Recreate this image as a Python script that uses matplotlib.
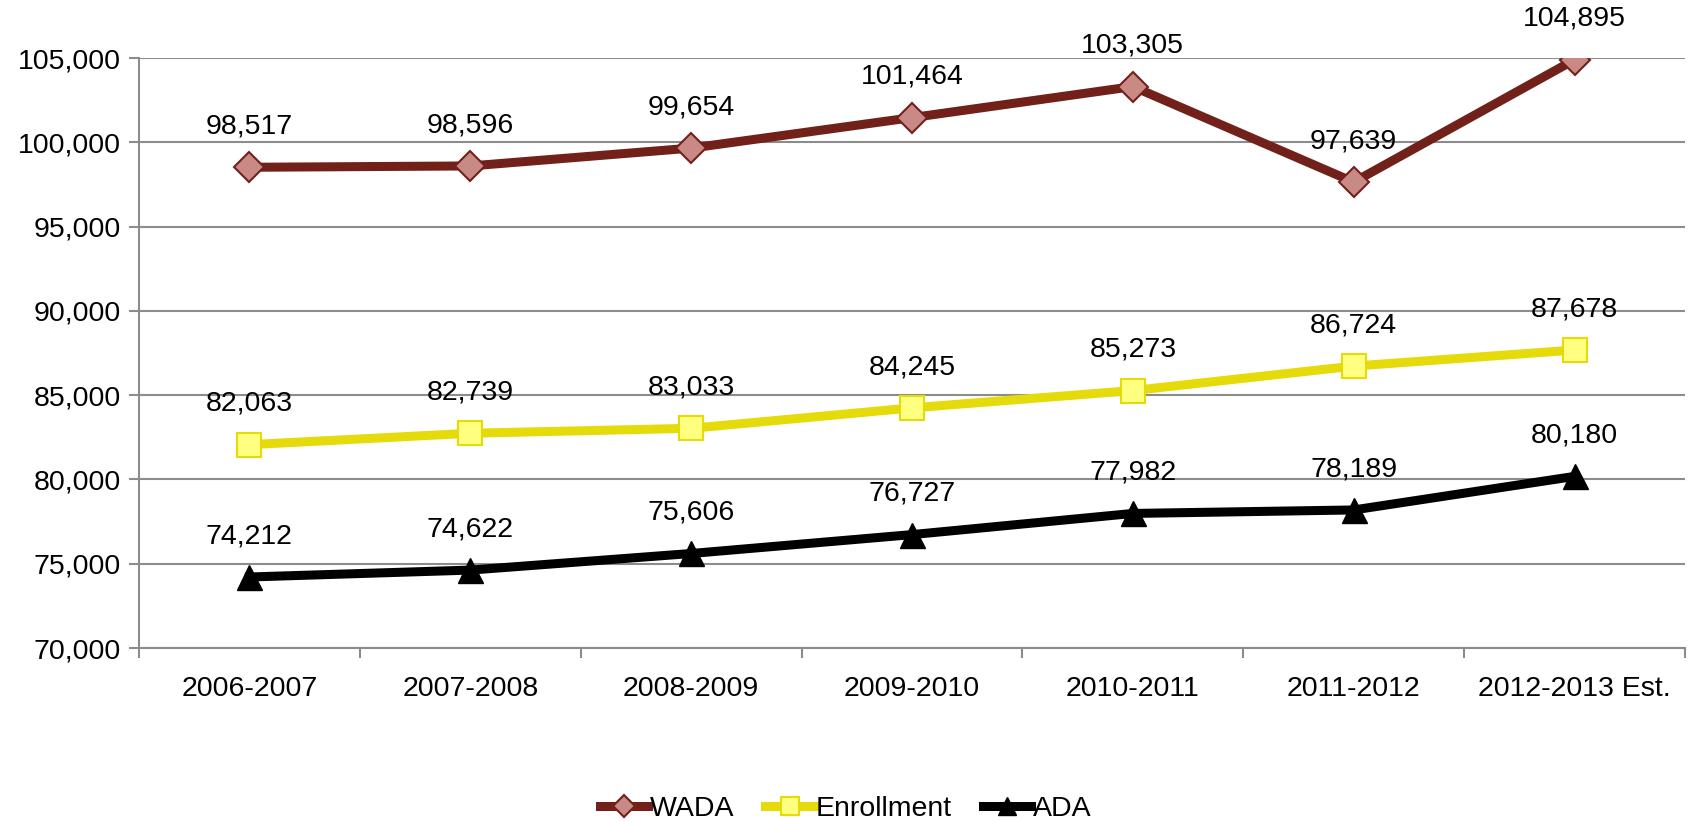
import numpy as np
import matplotlib.pyplot as plt
from matplotlib.ticker import FuncFormatter, FixedLocator

plt.rcParams['font.family'] = ['Liberation Sans', 'DejaVu Sans']

years = ['2006-2007', '2007-2008', '2008-2009', '2009-2010', '2010-2011', '2011-2012', '2012-2013 Est.']
wada = [98517, 98596, 99654, 101464, 103305, 97639, 104895]
enrollment = [82063, 82739, 83033, 84245, 85273, 86724, 87678]
ada = [74212, 74622, 75606, 76727, 77982, 78189, 80180]

fs = 20.5

fig = plt.figure(figsize=(16.91, 8.21), dpi=100)
ax = fig.add_axes([139 / 1691, 1 - 648 / 821, (1685 - 139) / 1691, 590 / 821])

x = np.arange(len(years))

ax.plot(x, wada, color='#72201A', lw=6.5, marker='D', ms=15,
        mfc='#C98A86', mec='#72201A', mew=1.5, label='WADA', zorder=3)
ax.plot(x, enrollment, color='#E5DB0A', lw=6.5, marker='s', ms=17,
        mfc='#FFFF80', mec='#E5DB0A', mew=1.5, label='Enrollment', zorder=3)
ax.plot(x, ada, color='black', lw=6.5, marker='^', ms=18,
        mfc='black', mec='black', label='ADA', zorder=3)

for series in (wada, enrollment, ada):
    for xi, v in zip(x, series):
        ax.annotate(f'{v:,}', (xi, v), xytext=(0, 20), textcoords='offset points',
                    ha='center', va='bottom', fontsize=fs)

ax.set_xlim(-0.5, len(years) - 0.5)
ax.set_ylim(70000, 105000)
ax.set_yticks(np.arange(70000, 105001, 5000))
ax.yaxis.set_major_formatter(FuncFormatter(lambda v, p: f'{int(v):,}'))
ax.grid(axis='y', color='#8C8C8C', lw=1.5)
ax.set_axisbelow(True)

ax.set_xticks(x)
ax.set_xticklabels(years)
ax.xaxis.set_minor_locator(FixedLocator(np.arange(-0.5, len(years), 1)))
ax.tick_params(axis='x', which='major', length=0, pad=20, labelsize=fs)
ax.tick_params(axis='x', which='minor', length=7, width=1.5, color='#8C8C8C', direction='out')
ax.tick_params(axis='y', length=7, width=1.5, color='#8C8C8C', pad=6, labelsize=fs)

for s in ('top', 'right'):
    ax.spines[s].set_visible(False)
for s in ('left', 'bottom'):
    ax.spines[s].set_color('#8C8C8C')
    ax.spines[s].set_linewidth(1.5)

fig.legend(loc='center', bbox_to_anchor=(0.5, 0.015), ncol=3, frameon=False,
           fontsize=fs, handlelength=1.7, handletextpad=0.05, columnspacing=1.1,
           borderaxespad=0, markerscale=0.75)

fig.savefig('out.png', dpi=100)
